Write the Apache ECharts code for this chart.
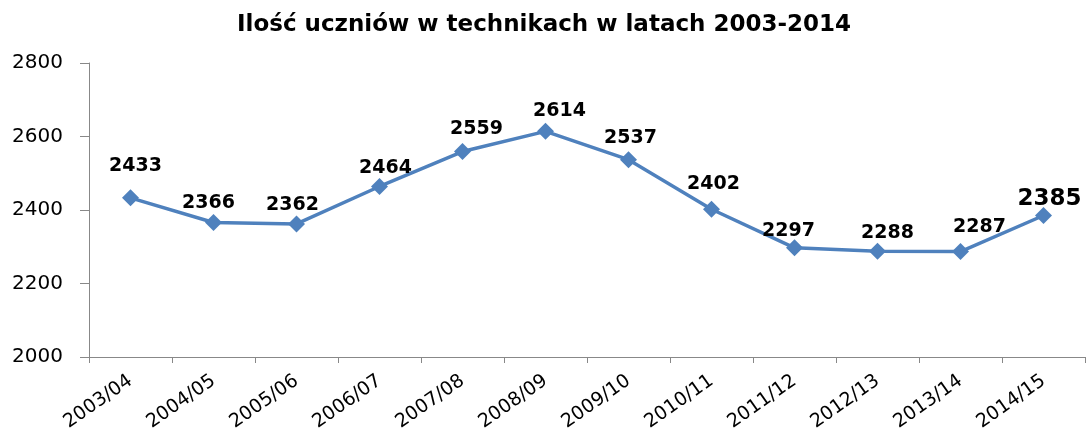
<!DOCTYPE html>
<html>
<head>
<meta charset="utf-8">
<script src="https://cdn.jsdelivr.net/npm/echarts@6/dist/echarts.min.js"></script>
<style>
html,body{margin:0;padding:0;background:#fff;}
#chart{width:1088px;height:434px;}
</style>
</head>
<body>
<div id="chart"></div>
<script>
// dane z wykresu
var years = ["2003/04","2004/05","2005/06","2006/07","2007/08","2008/09","2009/10","2010/11","2011/12","2012/13","2013/14","2014/15"];
var students = [2433,2366,2362,2464,2559,2614,2537,2402,2297,2288,2287,2385];
var yTicks = [2000,2200,2400,2600,2800];

var chartDom = document.getElementById("chart");
var myChart = echarts.init(chartDom, null, {renderer: "canvas"});
var font = "'DejaVu Sans', sans-serif";
var axisColor = "#888888";

// przesuniecia etykiet (jak w oryginale z Excela)
var labelNudge = [[5,32],[-5,19],[-4,19],[6,18],[14,23],[14,20],[2,22],[2,25],[-6,17],[10,18],[19,24],[6,16]];

var seriesData = students.map(function(v, i){
  var item = {value: v, label: {offset: [labelNudge[i][0], -labelNudge[i][1]]}};
  if (i === students.length - 1) {
    item.label.fontSize = 23;
  }
  return item;
});

var option = {
  animation: false,
  title: {
    text: "Ilość uczniów w technikach w latach 2003-2014",
    left: "center",
    top: 9,
    textStyle: {fontFamily: font, fontSize: 23, fontWeight: "bold", color: "#000"}
  },
  grid: {left: 89, right: 3, top: 63, bottom: 77},
  xAxis: {
    type: "category",
    data: years,
    boundaryGap: true,
    axisLine: {lineStyle: {color: axisColor, width: 1}},
    axisTick: {show: true, alignWithLabel: false, length: 6, lineStyle: {color: axisColor}},
    axisLabel: {rotate: 35, interval: 0, fontFamily: font, fontSize: 19, color: "#000", margin: 22}
  },
  yAxis: {
    type: "value",
    min: yTicks[0],
    max: yTicks[yTicks.length - 1],
    interval: 200,
    splitLine: {show: false},
    axisLine: {show: true, lineStyle: {color: axisColor, width: 1}},
    axisTick: {show: true, inside: false, length: 9, lineStyle: {color: axisColor}},
    axisLabel: {fontFamily: font, fontSize: 20, color: "#000", margin: 26, formatter: function(v){ return String(v); }}
  },
  series: [{
    name: "Uczniowie",
    type: "line",
    data: seriesData,
    symbol: "diamond",
    symbolSize: 17,
    lineStyle: {color: "#4F81BD", width: 3.5},
    itemStyle: {color: "#4F81BD"},
    label: {
      show: true,
      position: "inside",
      fontFamily: font,
      fontSize: 19,
      fontWeight: "bold",
      color: "#000"
    }
  }]
};
option && myChart.setOption(option);
</script>
</body>
</html>
